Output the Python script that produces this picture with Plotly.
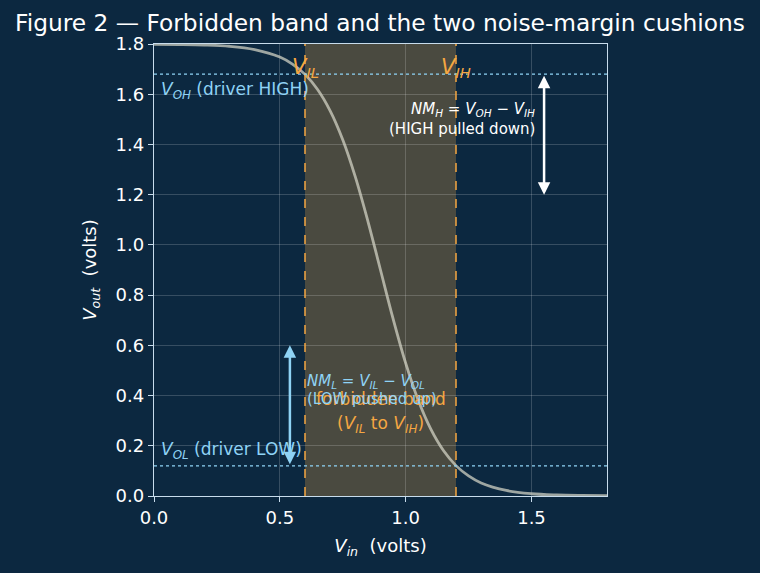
import plotly.graph_objects as go

# Transfer curve
vin = [0.0, 0.1, 0.2, 0.3, 0.4, 0.5, 0.55, 0.6, 0.65, 0.7, 0.75, 0.8, 0.85, 0.9,
       0.95, 1.0, 1.05, 1.1, 1.15, 1.2, 1.25, 1.3, 1.4, 1.5, 1.6, 1.7, 1.8]
vout = [1.799, 1.798, 1.796, 1.791, 1.778, 1.748, 1.720, 1.679, 1.619, 1.534, 1.419,
        1.271, 1.094, 0.900, 0.706, 0.529, 0.381, 0.266, 0.181, 0.121, 0.080, 0.052,
        0.022, 0.009, 0.004, 0.002, 0.001]

v_il, v_ih = 0.6, 1.2
v_oh, v_ol = 1.68, 0.12
nmh_x = 1.55
nml_x = 0.54
nml_top = 0.60
nmh_bottom = 1.20

x_ticks = [0.0, 0.5, 1.0, 1.5]
y_ticks = [0.0, 0.2, 0.4, 0.6, 0.8, 1.0, 1.2, 1.4, 1.6, 1.8]

BG = "#0c2840"
ORANGE = "#f5a742"
LBLUE = "#8fd3f5"
AXC = "#c8dcec"
FONT = "DejaVu Sans"

fig = go.Figure()

fig.add_trace(go.Scatter(x=vin, y=vout, mode="lines", line=dict(color="rgba(215,215,200,0.72)", width=2.8, shape="spline"),
                         hoverinfo="skip", showlegend=False))

shapes = [
    dict(type="rect", xref="x", yref="y", x0=v_il, x1=v_ih, y0=0, y1=1.8,
         fillcolor="rgba(245,167,66,0.27)", line=dict(width=0), layer="below"),
    dict(type="line", xref="x", yref="y", x0=v_il, x1=v_il, y0=0, y1=1.8,
         line=dict(color=ORANGE, width=1.5, dash="dash")),
    dict(type="line", xref="x", yref="y", x0=v_ih, x1=v_ih, y0=0, y1=1.8,
         line=dict(color=ORANGE, width=1.5, dash="dash")),
    dict(type="line", xref="x", yref="y", x0=0, x1=1.8, y0=v_oh, y1=v_oh,
         line=dict(color=LBLUE, width=1.3, dash="dot")),
    dict(type="line", xref="x", yref="y", x0=0, x1=1.8, y0=v_ol, y1=v_ol,
         line=dict(color=LBLUE, width=1.3, dash="dot")),
]

ann = []
def txt(x, y, text, color, size, xanchor="center", yanchor="middle"):
    ann.append(dict(x=x, y=y, xref="x", yref="y", text=text, showarrow=False,
                    font=dict(color=color, size=size, family=FONT),
                    xanchor=xanchor, yanchor=yanchor))

txt(v_il, 1.705, "<i>V</i><sub><i>IL</i></sub>", ORANGE, 21)
txt(v_ih, 1.705, "<i>V</i><sub><i>IH</i></sub>", ORANGE, 21)
txt(0.02, 1.615, "<i>V</i><sub><i>OH</i></sub> (driver HIGH)", LBLUE, 17, xanchor="left")
txt(0.02, 0.18, "<i>V</i><sub><i>OL</i></sub> (driver LOW)", LBLUE, 17, xanchor="left")
txt(0.9, 0.385, "forbidden band", ORANGE, 17)
txt(0.9, 0.285, "(<i>V</i><sub><i>IL</i></sub> to <i>V</i><sub><i>IH</i></sub>)", ORANGE, 17)
txt(1.52, 1.54, "<i>NM</i><sub><i>H</i></sub> = <i>V</i><sub><i>OH</i></sub> − <i>V</i><sub><i>IH</i></sub>", "white", 15, xanchor="right")
txt(1.52, 1.46, "(HIGH pulled down)", "white", 15, xanchor="right")
txt(0.6, 0.455, "<i>NM</i><sub><i>L</i></sub> = <i>V</i><sub><i>IL</i></sub> − <i>V</i><sub><i>OL</i></sub>", LBLUE, 15, xanchor="left")
txt(0.6, 0.385, "(LOW pushed up)", LBLUE, 15, xanchor="left")

ann.append(dict(x=nmh_x, y=nmh_bottom, ax=nmh_x, ay=v_oh, xref="x", yref="y", axref="x", ayref="y",
                text="", showarrow=True, arrowside="end+start", arrowhead=2, startarrowhead=2,
                arrowsize=1, startarrowsize=1, arrowwidth=2.5, arrowcolor="white"))
ann.append(dict(x=nml_x, y=nml_top, ax=nml_x, ay=v_ol, xref="x", yref="y", axref="x", ayref="y",
                text="", showarrow=True, arrowside="end+start", arrowhead=2, startarrowhead=2,
                arrowsize=1, startarrowsize=1, arrowwidth=2.5, arrowcolor=LBLUE))

fig.update_layout(
    width=760, height=573,
    paper_bgcolor=BG, plot_bgcolor=BG,
    margin=dict(l=154, r=153, t=44, b=77),
    shapes=shapes, annotations=ann,
    font=dict(family=FONT, color="white", size=17),
    title=dict(text="Figure 2 — Forbidden band and the two noise-margin cushions",
               x=0.5, xanchor="center", y=0.96, yanchor="middle",
               font=dict(size=23.3, color="white", family=FONT)),
    showlegend=False,
)
fig.update_xaxes(range=[0, 1.8], tickvals=x_ticks, ticktext=[f"{v:.1f}" for v in x_ticks],
                 showgrid=True, gridcolor="rgba(255,255,255,0.18)", gridwidth=0.8,
                 showline=True, linecolor=AXC, linewidth=1.3, mirror=True,
                 ticks="outside", ticklen=5, tickcolor=AXC, zeroline=False,
                 tickfont=dict(size=18, color="white"),
                 title=dict(text="<i>V</i><sub><i>in</i></sub>  (volts)", font=dict(size=18, color="white"), standoff=12))
fig.update_yaxes(range=[0, 1.8], tickvals=y_ticks, ticktext=[f"{v:.1f}" for v in y_ticks],
                 showgrid=True, gridcolor="rgba(255,255,255,0.18)", gridwidth=0.8,
                 showline=True, linecolor=AXC, linewidth=1.3, mirror=True,
                 ticks="outside", ticklen=5, tickcolor=AXC, zeroline=False,
                 tickfont=dict(size=18, color="white"),
                 title=dict(text="<i>V</i><sub><i>out</i></sub>  (volts)", font=dict(size=18, color="white"), standoff=14))

fig.write_html("out.html")
